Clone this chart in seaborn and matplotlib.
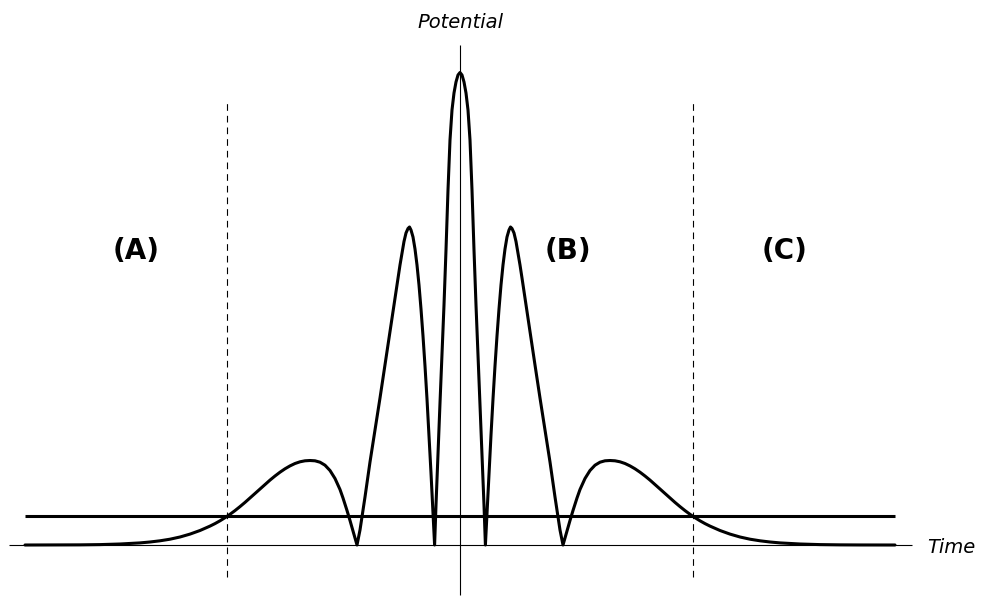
import numpy as np
import pandas as pd
import matplotlib
matplotlib.use("Agg")
import matplotlib.pyplot as plt
import seaborn as sns

# Right half of the (symmetric) potential curve
time_right = [0.00, 0.02, 0.04, 0.06, 0.08, 0.10, 0.12, 0.14, 0.16, 0.18, 0.20, 0.22, 0.24, 0.254,
              0.27, 0.29, 0.31, 0.33, 0.35, 0.37, 0.39, 0.41, 0.43, 0.45, 0.47, 0.49, 0.505,
              0.52, 0.54, 0.56, 0.58, 0.60, 0.62, 0.66, 0.70, 0.75, 0.80, 0.85, 0.90, 0.95, 0.97, 1.00, 1.03,
              1.05, 1.07, 1.10, 1.13, 1.17, 1.20, 1.25, 1.30, 1.35, 1.40, 1.45, 1.50, 1.55, 1.60,
              1.65, 1.70, 1.75, 1.80, 1.85, 1.90, 1.95, 2.00, 2.05, 2.10, 2.15, 2.20, 2.25, 2.30,
              2.35, 2.40, 2.45, 2.50, 2.60, 2.70, 2.80, 2.90, 3.00, 3.10, 3.20, 3.30, 3.40, 3.50,
              3.60, 3.80, 4.00, 4.35]
potential_right = [4.725, 4.70, 4.63, 4.52, 4.35, 4.05, 3.55, 2.95, 2.40, 1.90, 1.42, 0.92, 0.40, 0.00,
                   0.32, 0.72, 1.10, 1.46, 1.79, 2.09, 2.36, 2.60, 2.80, 2.96, 3.08, 3.15, 3.18,
                   3.165, 3.12, 3.035, 2.92, 2.80, 2.67, 2.40, 2.13, 1.80, 1.47, 1.15, 0.83, 0.48, 0.35, 0.15, 0.00,
                   0.07, 0.14, 0.245, 0.345, 0.47, 0.555, 0.665, 0.745, 0.798, 0.828, 0.842, 0.845, 0.842, 0.832,
                   0.815, 0.791, 0.762, 0.728, 0.690, 0.649, 0.605, 0.560, 0.515, 0.470, 0.426, 0.384, 0.344, 0.307,
                   0.273, 0.242, 0.214, 0.189, 0.145, 0.109, 0.080, 0.058, 0.042, 0.030, 0.021, 0.015, 0.010, 0.0065,
                   0.004, 0.0015, 0.0005, 0.0]
threshold = 0.293
boundary_time = 2.325
region_labels = ["(A)", "(B)", "(C)"]
region_time = [-3.24, 1.08, 3.25]
axis_labels = ["Potential", "Time"]

sns.set_theme(style="white")
plt.rcParams['font.family'] = ['DejaVu Sans']

tr = np.array(time_right)
vr = np.array(potential_right)
t = np.concatenate([-tr[::-1], tr[1:]])
v = np.concatenate([vr[::-1], vr[1:]])
df = pd.DataFrame({"Time": t, "Potential": v})

fig = plt.figure(figsize=(9.81, 5.97), dpi=100)
ax = fig.add_axes([0, 0, 1, 1])
ax.set_xlim(-4.6, 5.21)
ax.set_ylim(-0.52, 5.45)
ax.axis('off')

# axes
ax.hlines(0, -4.51, 4.52, color='black', lw=0.8)
ax.vlines(0, -0.5, 5.0, color='black', lw=0.8)

# boundaries
for b in (-boundary_time, boundary_time):
    ax.vlines(b, -0.32, 4.44, colors='black', lw=0.8, linestyles=(0, (6, 4.5)))

# threshold line
ax.hlines(threshold, t.min(), t.max(), color='black', lw=2.2)

# potential curve
sns.lineplot(data=df, x="Time", y="Potential", sort=False, estimator=None,
             color='black', lw=2.2, ax=ax, solid_joinstyle='round')

for lab, xt in zip(region_labels, region_time):
    ax.text(xt, 2.94, lab, ha='center', va='center', fontsize=20,
            fontweight='bold', color='black')

ax.text(0, 5.17, axis_labels[0], ha='center', va='baseline', fontsize=14,
        style='italic', color='black')
ax.text(4.667, -0.077, axis_labels[1], ha='left', va='baseline', fontsize=14,
        style='italic', color='black')

fig.savefig("out.png", dpi=100)
